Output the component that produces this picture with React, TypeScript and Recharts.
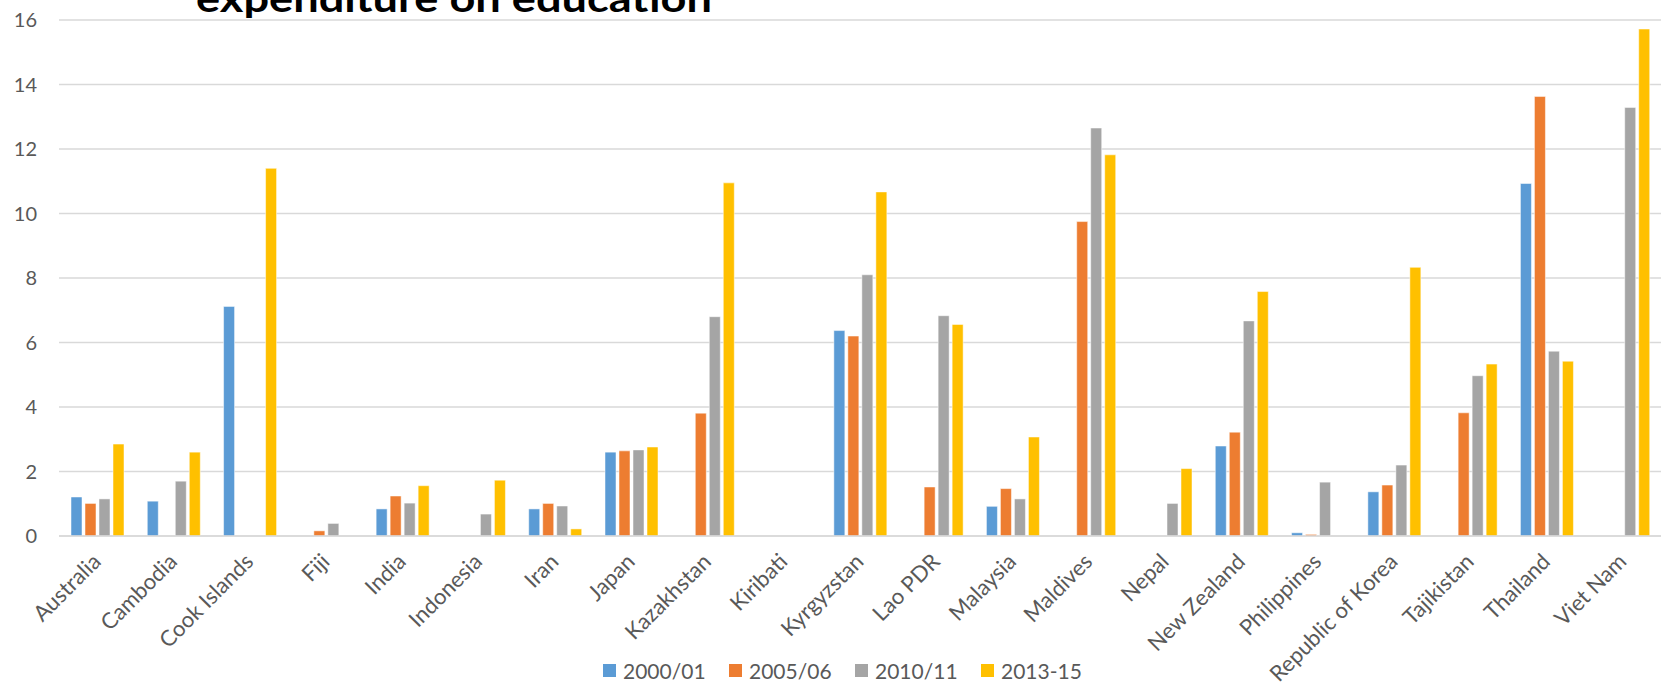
import React from 'react';
import { BarChart, Bar, XAxis, YAxis, CartesianGrid, Legend } from 'recharts';

// categories and series values
const countries = [
  'Australia', 'Cambodia', 'Cook Islands', 'Fiji', 'India', 'Indonesia', 'Iran',
  'Japan', 'Kazakhstan', 'Kiribati', 'Kyrgyzstan', 'Lao PDR', 'Malaysia', 'Maldives',
  'Nepal', 'New Zealand', 'Philippines', 'Republic of Korea', 'Tajikistan', 'Thailand', 'Viet Nam'
];

const y2000 = [1.21, 1.08, 7.12, null, 0.84, null, 0.84, 2.6, null, null, 6.37, null, 0.92, null, null, 2.79, 0.1, 1.37, null, 10.93, null];
const y2005 = [1.01, null, null, 0.16, 1.24, null, 1.01, 2.64, 3.81, null, 6.2, 1.52, 1.47, 9.75, null, 3.22, 0.05, 1.58, 3.82, 13.63, null];
const y2010 = [1.15, 1.7, null, 0.39, 1.02, 0.68, 0.93, 2.67, 6.8, null, 8.1, 6.83, 1.15, 12.65, 1.01, 6.67, 1.67, 2.2, 4.97, 5.73, 13.29];
const y2013 = [2.85, 2.6, 11.4, null, 1.56, 1.73, 0.22, 2.76, 10.95, null, 10.67, 6.56, 3.07, 11.82, 2.09, 7.58, null, 8.33, 5.33, 5.42, 15.72];

const yTicks = [0, 2, 4, 6, 8, 10, 12, 14, 16];

const series = [
  { key: 'y2000', name: '2000/01', color: '#5B9BD5' },
  { key: 'y2005', name: '2005/06', color: '#ED7D31' },
  { key: 'y2010', name: '2010/11', color: '#A5A5A5' },
  { key: 'y2013', name: '2013-15', color: '#FFC000' }
];

const data = countries.map((c, i) => ({
  country: c,
  y2000: y2000[i],
  y2005: y2005[i],
  y2010: y2010[i],
  y2013: y2013[i]
}));

const FONT = 'Lato, "Open Sans", sans-serif';
const TEXT = '#595959';

// x labels slanted at 45 degrees, end of text hanging just under the group
const AngledTick = (props: any) => {
  const { x, y, payload } = props;
  return (
    <g transform={`translate(${x + 5},${y + 19})`}>
      <text
        textAnchor="end"
        transform="rotate(-45)"
        fill={TEXT}
        fontSize={22}
        fontFamily={FONT}
      >
        {payload.value}
      </text>
    </g>
  );
};

const LegendBox = () => (
  <div style={{ display: 'flex', alignItems: 'center', height: 30, fontFamily: FONT, fontSize: 21, color: TEXT }}>
    {series.map(s => (
      <div key={s.key} style={{ display: 'flex', alignItems: 'center', width: 126 }}>
        <span style={{ width: 13, height: 13, background: s.color, marginRight: 7, display: 'inline-block' }} />
        <span>{s.name}</span>
      </div>
    ))}
  </div>
);

export default function App() {
  return (
    <div style={{ position: 'absolute', left: 0, top: 0, width: 1665, height: 690, overflow: 'hidden', background: '#fff' }}>
      <BarChart
        width={1665}
        height={690}
        data={data}
        margin={{ top: 20, right: 4, left: 0, bottom: 5 }}
        barSize={11}
        barGap={3}
      >
        <CartesianGrid vertical={false} stroke="#D9D9D9" strokeWidth={1.5} />
        <XAxis
          dataKey="country"
          interval={0}
          height={119}
          tick={<AngledTick />}
          tickLine={false}
          axisLine={{ stroke: '#D9D9D9', strokeWidth: 1.5 }}
        />
        <YAxis
          width={59}
          domain={[0, 16]}
          ticks={yTicks}
          axisLine={false}
          tickLine={false}
          tickMargin={16}
          tick={{ fill: TEXT, fontSize: 20, fontFamily: FONT }}
        />
        <Legend
          verticalAlign="bottom"
          content={<LegendBox />}
          wrapperStyle={{ left: 603, bottom: 5, width: 520, height: 30 }}
        />
        {series.map(s => (
          <Bar
            key={s.key}
            dataKey={s.key}
            name={s.name}
            fill={s.color}
            stroke="#fff"
            strokeWidth={0.5}
            isAnimationActive={false}
          />
        ))}
      </BarChart>
      {/* title: only its last line shows, the rest sits above the picture */}
      <svg width={1665} height={40} style={{ position: 'absolute', left: 0, top: 0 }}>
        <text
          x={196}
          y={12}
          fontFamily={FONT}
          fontWeight="bold"
          fontSize={39}
          fill="#000"
          textLength={516}
          lengthAdjust="spacingAndGlyphs"
        >
          expenditure on education
        </text>
      </svg>
    </div>
  );
}
